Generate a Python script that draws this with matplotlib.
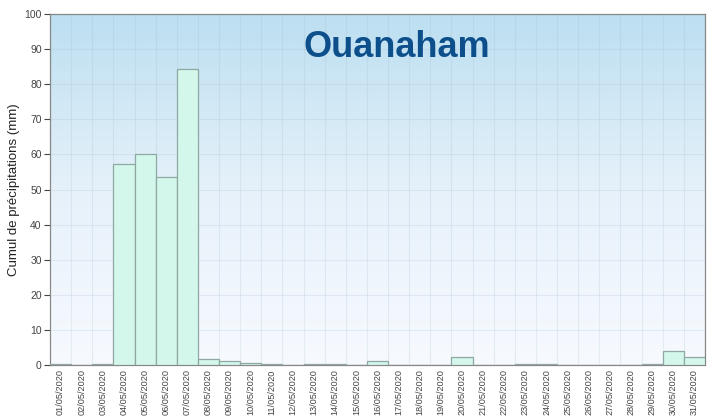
import matplotlib.pyplot as plt
import numpy as np
from matplotlib.colors import LinearSegmentedColormap

plt.rcParams['font.family'] = ['Liberation Sans', 'DejaVu Sans']

# daily rainfall, May 2020
days = ['%02d/05/2020' % d for d in range(1, 32)]
rain = [0.2, 0.0, 0.2, 57.3, 60.2, 53.6, 84.2, 1.7, 1.1, 0.6, 0.2, 0.0, 0.2, 0.2, 0.0,
        1.0, 0.0, 0.0, 0.0, 2.2, 0.0, 0.0, 0.2, 0.2, 0.0, 0.0, 0.0, 0.0, 0.2, 4.0, 2.3]
station = 'Ouanaham'

fig = plt.figure(figsize=(7.12, 4.17), dpi=100)
ax = fig.add_axes([50 / 712, 1 - 365 / 417, 655 / 712, 351 / 417])

# background gradient, light blue at top fading to white
cmap = LinearSegmentedColormap.from_list('bg', ['#f7faff', '#e6f1fa', '#bcdff1'])
grad = np.linspace(0, 1, 256).reshape(-1, 1)
ax.imshow(grad, cmap=cmap, aspect='auto', origin='lower',
          extent=[-0.5, len(days) - 0.5, 0, 100], zorder=0)

x = np.arange(len(days))
ax.bar(x, rain, width=1.0, color='#d3f7ea', edgecolor='#8fa8a4', linewidth=0.9, zorder=3)

ax.set_xlim(-0.5, len(days) - 0.5)
ax.set_ylim(0, 100)
ax.set_yticks(range(0, 101, 10))
ax.set_xticks(x)
ax.set_xticklabels(days, rotation=90, fontsize=6.6, color='#444444')
ax.tick_params(axis='y', labelsize=7.5, colors='#444444', length=4, width=0.8, pad=2)
ax.tick_params(axis='x', length=0, pad=3)

# grid at bar edges and every 10 mm
ax.set_xticks(np.arange(-0.5, len(days), 1.0), minor=True)
ax.tick_params(axis='x', which='minor', length=0)
ax.grid(which='minor', axis='x', color='#9fb3c8', alpha=0.2, linewidth=0.8, zorder=1)
ax.grid(which='major', axis='y', color='#9fb3c8', alpha=0.2, linewidth=0.8, zorder=1)
ax.grid(which='major', axis='x', visible=False)
ax.set_axisbelow(True)

for s in ax.spines.values():
    s.set_color('#888888')
    s.set_linewidth(0.9)

ax.set_ylabel('Cumul de précipitations (mm)', fontsize=9.5, color='#222222')
ax.yaxis.set_label_coords(-30 / 655, 0.5)
ax.text(0.53, 0.905, station, transform=ax.transAxes, ha='center', va='center',
        fontsize=26, fontweight='bold', color='#0d4f8b', zorder=5)

fig.savefig('out.png', dpi=100)
